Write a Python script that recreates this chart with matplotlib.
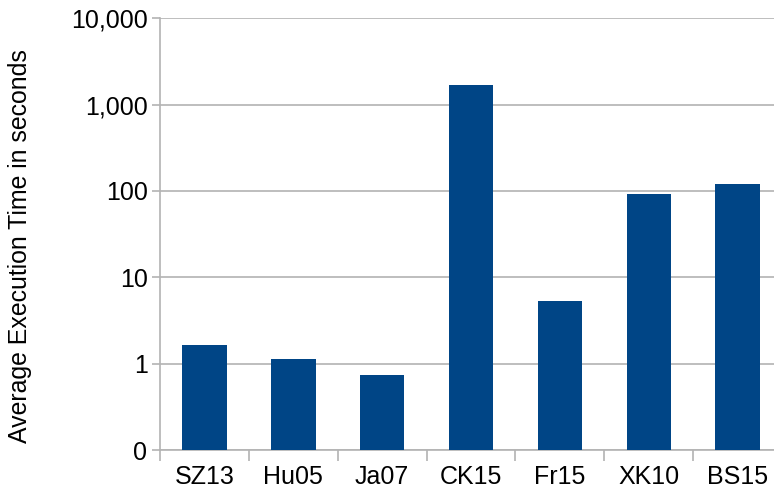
import numpy as np
import matplotlib.pyplot as plt
from matplotlib.ticker import FixedLocator, NullFormatter

categories = ["SZ13", "Hu05", "Ja07", "CK15", "Fr15", "XK10", "BS15"]
avg_time_s = [1.63, 1.12, 0.73, 1710, 5.3, 93, 120]
y_ticks = [0.1, 1, 10, 100, 1000, 10000]
y_tick_labels = ["0", "1", "10", "100", "1,000", "10,000"]

plt.rcParams["font.family"] = ["Liberation Sans", "DejaVu Sans"]

fig = plt.figure(figsize=(7.74, 4.9), dpi=100)
ax = fig.add_axes([160 / 774, 40 / 490, 622 / 774, 431.7 / 490])

x = np.arange(len(categories))
ax.set_yscale("log")
ax.bar(x, avg_time_s, width=0.5, color="#004586", zorder=3)
ax.set_ylim(0.1, 10000)
ax.set_xlim(-0.5, len(categories) - 0.5)

grid_col = "#b3b3b3"
ax.set_yticks(y_ticks)
ax.set_yticklabels(y_tick_labels)
ax.yaxis.set_minor_locator(FixedLocator([]))
ax.yaxis.set_minor_formatter(NullFormatter())
ax.grid(axis="y", which="major", color=grid_col, linewidth=1.2, zorder=0)
ax.tick_params(axis="y", which="major", length=6, width=1.2, color=grid_col,
               labelsize=18, pad=3)

ax.set_xticks(x)
ax.set_xticklabels(categories)
ax.xaxis.set_minor_locator(FixedLocator(np.arange(len(categories) + 1) - 0.5))
ax.tick_params(axis="x", which="major", length=0, labelsize=18, pad=11)
ax.tick_params(axis="x", which="minor", length=8, width=1.2, color=grid_col)

for side in ["top", "right"]:
    ax.spines[side].set_visible(False)
for side in ["left", "bottom"]:
    ax.spines[side].set_color(grid_col)
    ax.spines[side].set_linewidth(1.2)

fig.text(20 / 774, 0.497, "Average Execution Time in seconds", rotation=90,
         ha="center", va="center", fontsize=17.9)

fig.savefig("out.png", dpi=100)
